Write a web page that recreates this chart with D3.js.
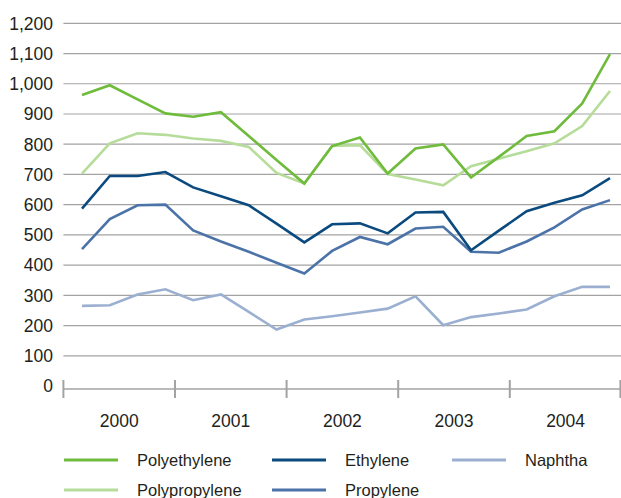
<!DOCTYPE html>
<html>
<head>
<meta charset="utf-8">
<script src="https://cdn.jsdelivr.net/npm/d3@7"></script>
<style>
  html, body { margin: 0; padding: 0; background: #fff; }
  svg { display: block; font-family: "Liberation Sans", Arial, sans-serif; }
</style>
</head>
<body>
<svg id="chart" width="621" height="498"></svg>
<script>
// Quarterly prices, 2000–2004
const years = ["2000", "2001", "2002", "2003", "2004"];
const periods = years.flatMap(y => ["Q1", "Q2", "Q3", "Q4"].map(q => y + " " + q));

const polyethylene  = [963, 995, 948, 902, 891, 906, 827, 748, 670, 794, 822, 703, 786, 799, 690, 758, 827, 843, 935, 1098];
const polypropylene = [703, 803, 836, 831, 819, 811, 791, 705, 670, 794, 797, 701, 683, 664, 727, 752, 777, 803, 860, 976];
const ethylene      = [587, 695, 695, 708, 657, 628, 598, 537, 475, 535, 538, 505, 574, 576, 449, 514, 578, 606, 631, 688];
const propylene     = [453, 552, 598, 600, 515, 478, 444, 408, 372, 447, 493, 469, 521, 527, 444, 441, 478, 525, 584, 615];
const naphtha       = [265, 267, 303, 320, 284, 303, 245, 187, 220, 231, 243, 256, 297, 201, 228, 240, 253, 297, 328, 328];

const yTicks = [0, 100, 200, 300, 400, 500, 600, 700, 800, 900, 1000, 1100, 1200];

const series = [
  { name: "Naphtha",       values: naphtha,       color: "#9bb0d1" },
  { name: "Propylene",     values: propylene,     color: "#4c73a7" },
  { name: "Ethylene",      values: ethylene,      color: "#0b4a7f" },
  { name: "Polypropylene", values: polypropylene, color: "#b6dc9a" },
  { name: "Polyethylene",  values: polyethylene,  color: "#6fbb3c" }
];

// Legend order, laid out in rows of three
const legendOrder = ["Polyethylene", "Ethylene", "Naphtha", "Polypropylene", "Propylene"];

const svg = d3.select("#chart");
const textColor = "#231f20";
const gridColor = "#a3a3a3";

const plotLeft = 63.4, plotRight = 621.4;

const y = d3.scaleLinear().domain([0, 1200]).range([386, 23.3]);
const x = d3.scalePoint().domain(periods).range([82, 610]);
const yearBand = d3.scaleBand().domain(years).range([plotLeft, plotRight]).padding(0);

// Horizontal gridlines
svg.append("g")
  .selectAll("line")
  .data(yTicks.filter(d => d > 0))
  .join("line")
  .attr("x1", plotLeft).attr("x2", plotRight)
  .attr("y1", d => y(d)).attr("y2", d => y(d))
  .attr("stroke", gridColor).attr("stroke-width", 1.2);

// Y labels
svg.append("g")
  .selectAll("text")
  .data(yTicks)
  .join("text")
  .attr("x", 53)
  .attr("y", d => y(d))
  .attr("dy", "0.36em")
  .attr("text-anchor", "end")
  .attr("font-size", 17.5)
  .attr("fill", textColor)
  .text(d => d3.format(",")(d));

// Bottom axis with year separators
const axisY = y(0) + 3;
const axisG = svg.append("g");
axisG.append("line")
  .attr("x1", plotLeft).attr("x2", plotRight)
  .attr("y1", axisY).attr("y2", axisY)
  .attr("stroke", gridColor).attr("stroke-width", 1.6);

const boundaries = years.map(d => yearBand(d)).concat([yearBand.range()[1] - 1]);
axisG.selectAll("line.tick")
  .data(boundaries)
  .join("line")
  .attr("class", "tick")
  .attr("x1", d => d).attr("x2", d => d)
  .attr("y1", axisY - 9).attr("y2", axisY + 9)
  .attr("stroke", gridColor).attr("stroke-width", 2);

axisG.selectAll("text")
  .data(years)
  .join("text")
  .attr("x", d => yearBand(d) + yearBand.bandwidth() / 2)
  .attr("y", 421)
  .attr("dy", "0.36em")
  .attr("text-anchor", "middle")
  .attr("font-size", 17.5)
  .attr("fill", textColor)
  .text(d => d);

// Series lines
const line = d3.line()
  .x((d, i) => x(periods[i]))
  .y(d => y(d));

svg.append("g")
  .selectAll("path")
  .data(series)
  .join("path")
  .attr("d", d => line(d.values))
  .attr("fill", "none")
  .attr("stroke", d => d.color)
  .attr("stroke-width", 2.6)
  .attr("stroke-linejoin", "miter");

// Legend
const legendCols = [64, 272, 452];
const legendRows = [460, 490];
const legend = svg.append("g")
  .selectAll("g")
  .data(legendOrder.map(n => series.find(s => s.name === n)))
  .join("g")
  .attr("transform", (d, i) => `translate(${legendCols[i % 3]},${legendRows[Math.floor(i / 3)]})`);

legend.append("line")
  .attr("x1", 0).attr("x2", 54)
  .attr("y1", 0).attr("y2", 0)
  .attr("stroke", d => d.color)
  .attr("stroke-width", 3);

legend.append("text")
  .attr("x", 73)
  .attr("y", 0)
  .attr("dy", "0.36em")
  .attr("font-size", 16.5)
  .attr("fill", textColor)
  .text(d => d.name);
</script>
</body>
</html>
